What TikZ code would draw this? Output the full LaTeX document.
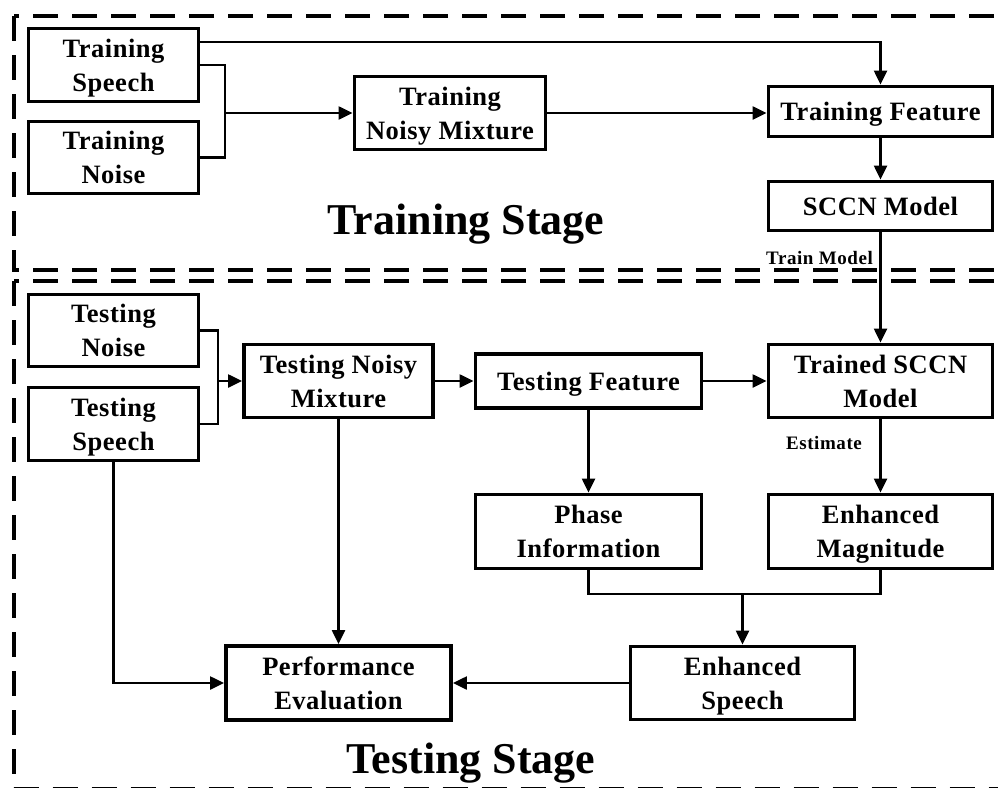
\documentclass[tikz,border=0pt]{standalone}
\usepackage{fontspec}
\setmainfont{Liberation Serif}
\usetikzlibrary{arrows.meta,calc}
\begin{document}
\begin{tikzpicture}[x=1pt,y=-1pt,
  box/.style={draw, line width=3.8pt, inner sep=0pt, align=center, text depth=0pt,
    font=\bfseries\fontsize{26.5}{34}\selectfont\addfontfeatures{LetterSpace=2}},
  arr/.style={-{Triangle[length=14pt,width=13pt]}, line width=2.2pt},
  conn/.style={line width=2.2pt},
  stagebox/.style={line width=4pt, dash pattern=on 25pt off 14pt},
  stagetitle/.style={font=\bfseries\fontsize{44}{50}\selectfont, inner sep=0pt},
  lbl/.style={font=\bfseries\fontsize{19}{22}\selectfont\addfontfeatures{LetterSpace=3}, inner sep=0pt}]
\path[use as bounding box] (0,0) rectangle (998,787);
\clip (0,0) rectangle (998,787);
% stage frames
\draw[stagebox] (14,16) rectangle (1030,270);
\draw[stagebox] (14,281) rectangle (1030,788.5);
% training stage nodes
\node[box, minimum width=170pt, minimum height=73pt] (tsp) at (113.5,65) {Training\\Speech};
\node[box, minimum width=170pt, minimum height=72pt] (tno) at (113.5,157.5) {Training\\Noise};
\node[box, minimum width=191pt, minimum height=73pt] (tnm) at (450,113) {Training\\Noisy Mixture};
\node[box, minimum width=224pt, minimum height=50pt] (tfe) at (880.5,111.5) {Training Feature};
\node[box, minimum width=224pt, minimum height=49pt] (sccn) at (880.5,206) {SCCN Model};
\node[stagetitle, anchor=base] (trst) at (466,234) {Training Stage};
% testing stage nodes
\node[box, minimum width=170pt, minimum height=72pt] (ten) at (113.5,330.5) {Testing\\Noise};
\node[box, minimum width=170pt, minimum height=73pt] (tes) at (113.5,424) {Testing\\Speech};
\node[box, minimum width=189pt, minimum height=73pt] (tem) at (338.5,381) {Testing Noisy\\Mixture};
\node[box, minimum width=226pt, minimum height=54pt] (tef) at (588.5,381) {Testing Feature};
\node[box, minimum width=224pt, minimum height=73pt] (tsc) at (880.5,381) {Trained SCCN\\Model};
\node[box, minimum width=226pt, minimum height=74pt] (pha) at (588.5,531.5) {Phase\\Information};
\node[box, minimum width=224pt, minimum height=74pt] (emg) at (880.5,531.5) {Enhanced\\Magnitude};
\node[box, minimum width=224pt, minimum height=73pt] (esp) at (742.5,683) {Enhanced\\Speech};
\node[box, minimum width=225pt, minimum height=74pt] (pev) at (338.5,683) {Performance\\Evaluation};
\node[stagetitle, anchor=base] (test) at (471,773) {Testing Stage};
% labels
\node[lbl, anchor=base east] (trm) at (873,264) {Train Model};
\node[lbl, anchor=base] (est) at (824,449) {Estimate};
% merge points
\coordinate (m1) at (225,113);
\coordinate (m2) at (218,381);
\coordinate (m3) at (742.5,594);
% training connectors
\draw[arr] ([yshift=-15pt]tsp.north east) -| (tfe.north);
\draw[conn] (tsp.east) -| (m1) |- (tno.east);
\draw[arr] (m1) -- (tnm.west);
\draw[arr] (tnm.east) -- (tfe.west |- tnm.east);
\draw[arr] (tfe.south) -- (sccn.north);
\draw[arr] (sccn.south) -- (tsc.north);
% testing connectors
\draw[conn] (ten.east) -| (m2) |- (tes.east);
\draw[arr] (m2) -- (tem.west);
\draw[arr] (tem.east) -- (tef.west);
\draw[arr] (tef.east) -- (tsc.west);
\draw[arr] (tef.south) -- (pha.north);
\draw[arr] (tsc.south) -- (emg.north);
\draw[conn] (pha.south) |- (m3) -| (emg.south);
\draw[arr] (m3) -- (esp.north);
\draw[arr] (esp.west) -- (pev.east);
\draw[arr] (tem.south) -- (pev.north);
\draw[arr] (tes.south) |- (pev.west);
\end{tikzpicture}
\end{document}
